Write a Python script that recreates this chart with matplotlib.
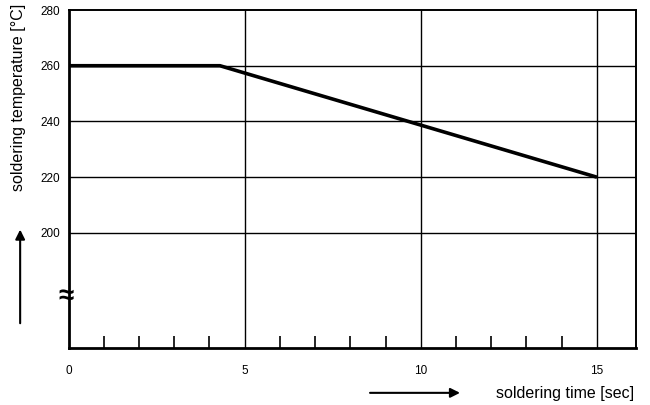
import matplotlib
matplotlib.use("Agg")
import matplotlib.pyplot as plt

# dados da curva de soldagem
tempo = [0, 4.3, 15]
temperatura = [260, 260, 220]

ticks_x = [0, 5, 10, 15]
ticks_y = [200, 220, 240, 260, 280]
ticks_menores = [1, 2, 3, 4, 6, 7, 8, 9, 11, 12, 13, 14]

plt.rcParams['font.family'] = ['Liberation Sans', 'DejaVu Sans']

fig = plt.figure(figsize=(6.5, 4.05), dpi=100)
ax = fig.add_axes([0.1054, 0.1407, 0.8726, 0.8346])

ax.set_xlim(0, 16.1)
ax.set_ylim(158.7, 280)

# grade
for x in ticks_x[1:]:
    ax.axvline(x, color='black', lw=1.0, zorder=1)
for y in ticks_y[:-1]:
    ax.axhline(y, color='black', lw=1.0, zorder=1)

# curva
ax.plot(tempo, temperatura, color='black', lw=2.6, solid_capstyle='butt', zorder=3)

ax.set_xticks(ticks_x)
ax.set_xticklabels([str(t) for t in ticks_x], fontsize=8.5)
ax.set_xticks(ticks_menores, minor=True)
ax.set_yticks(ticks_y)
ax.set_yticklabels([str(t) for t in ticks_y], fontsize=8.5)
ax.tick_params(axis='x', which='major', length=0, pad=12)
ax.tick_params(axis='x', which='minor', direction='in', length=9, width=1.2)
ax.tick_params(axis='y', length=0, pad=6)

for lado in ['top', 'right']:
    ax.spines[lado].set_linewidth(1.4)
for lado in ['left', 'bottom']:
    ax.spines[lado].set_linewidth(2.0)

# símbolo de quebra do eixo
ax.text(-0.06, 177, '≈', ha='center', va='center', fontsize=20, fontweight='bold',
        transform=ax.transData, clip_on=False, zorder=5)

# rótulos com setas
fig.text(0.028, 0.99, 'soldering temperature [°C]', rotation=90, ha='center', va='top', fontsize=11.5)
fig.add_artist(matplotlib.patches.FancyArrowPatch((0.031, 0.195), (0.031, 0.44),
               transform=fig.transFigure, arrowstyle='-|>', mutation_scale=14, lw=1.5, color='black'))
fig.text(0.975, 0.018, 'soldering time [sec]', ha='right', va='baseline', fontsize=11.5)
fig.add_artist(matplotlib.patches.FancyArrowPatch((0.565, 0.03), (0.712, 0.03),
               transform=fig.transFigure, arrowstyle='-|>', mutation_scale=14, lw=1.5, color='black'))

fig.savefig('out.png', dpi=100)
